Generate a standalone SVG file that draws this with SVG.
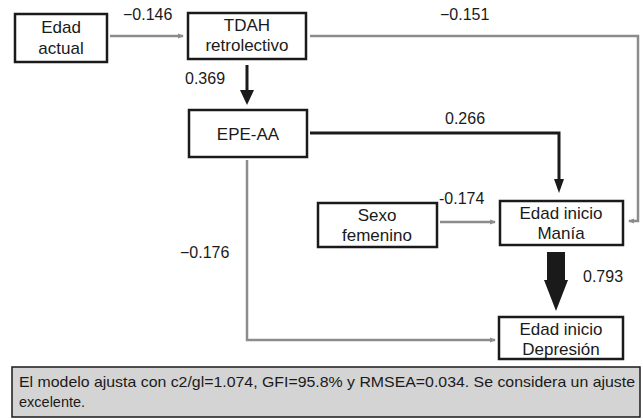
<svg xmlns="http://www.w3.org/2000/svg" width="643" height="420" viewBox="0 0 643 420">
<style>
.box{fill:#fff;stroke:#1a1a1a;stroke-width:2.5}
.t{font-family:"Liberation Sans",Arial,sans-serif;font-size:17px;fill:#1a1a1a;text-anchor:middle}
.l{font-family:"Liberation Sans",Arial,sans-serif;font-size:16px;fill:#1a1a1a}
.f{font-family:"Liberation Sans",Arial,sans-serif;font-size:14.5px;fill:#1a1a1a}
.g{fill:none;stroke:#8c8c8c;stroke-width:2.5}
.k{fill:none;stroke:#1a1a1a;stroke-width:3}
</style>
<defs>
<marker id="ag" markerWidth="6" markerHeight="6" refX="5" refY="3" orient="auto" markerUnits="userSpaceOnUse"><path d="M0,0.5 L6,3 L0,5.5 Z" fill="#8c8c8c"/></marker>
</defs>
<g id="connectors">
<path class="g" d="M110,36 H183" marker-end="url(#ag)"/>
<path class="k" d="M247,65 V93"/>
<path d="M240,90 H254 L247,105 Z" fill="#1a1a1a"/>
<path class="g" d="M310,36 H638 V221 H629" marker-end="url(#ag)"/>
<path class="k" d="M310,133 H559 V181"/>
<path d="M554,179 H564 L559,193 Z" fill="#1a1a1a"/>
<path class="g" d="M440,222 H495" marker-end="url(#ag)"/>
<path d="M547,252 H565 V280 H568 L556,311 L544,280 H547 Z" fill="#1a1a1a"/>
<path class="g" d="M247,160 V340 H495" marker-end="url(#ag)"/>
</g>
<g id="lbl">
<text class="l" x="123" y="20">−0.146</text>
<text class="l" x="440" y="20">−0.151</text>
<text class="l" x="185" y="84">0.369</text>
<text class="l" x="445" y="124">0.266</text>
<text class="l" x="439" y="204">-0.174</text>
<text class="l" x="583" y="282">0.793</text>
<text class="l" x="180" y="258">−0.176</text>
</g>
<g id="edad-actual"><rect class="box" x="15" y="14" width="92" height="48"/><text class="t" x="61" y="33">Edad</text><text class="t" x="61" y="54">actual</text></g>
<g id="tdah"><rect class="box" x="188" y="13" width="118" height="46"/><text class="t" x="247" y="31">TDAH</text><text class="t" x="247" y="51">retrolectivo</text></g>
<g id="epe-aa"><rect class="box" x="189" y="110" width="118" height="47"/><text class="t" x="248" y="140">EPE-AA</text></g>
<g id="sexo"><rect class="box" x="318" y="203" width="119" height="44"/><text class="t" x="377" y="221">Sexo</text><text class="t" x="377" y="241">femenino</text></g>
<g id="mania"><rect class="box" x="500" y="201" width="123" height="44"/><text class="t" x="561" y="219">Edad inicio</text><text class="t" x="561" y="239">Manía</text></g>
<g id="depresion"><rect class="box" x="499" y="317" width="124" height="42"/><text class="t" x="561" y="335">Edad inicio</text><text class="t" x="561" y="355">Depresión</text></g>
<g id="footer"><rect x="12" y="367" width="628" height="50" fill="#d4d4d4" stroke="#1a1a1a" stroke-width="1.5"/>
<text class="f" x="19" y="387" textLength="616" lengthAdjust="spacingAndGlyphs">El modelo ajusta con c2/gl=1.074, GFI=95.8% y RMSEA=0.034. Se considera un ajuste</text>
<text class="f" x="19" y="407">excelente.</text></g>
</svg>
